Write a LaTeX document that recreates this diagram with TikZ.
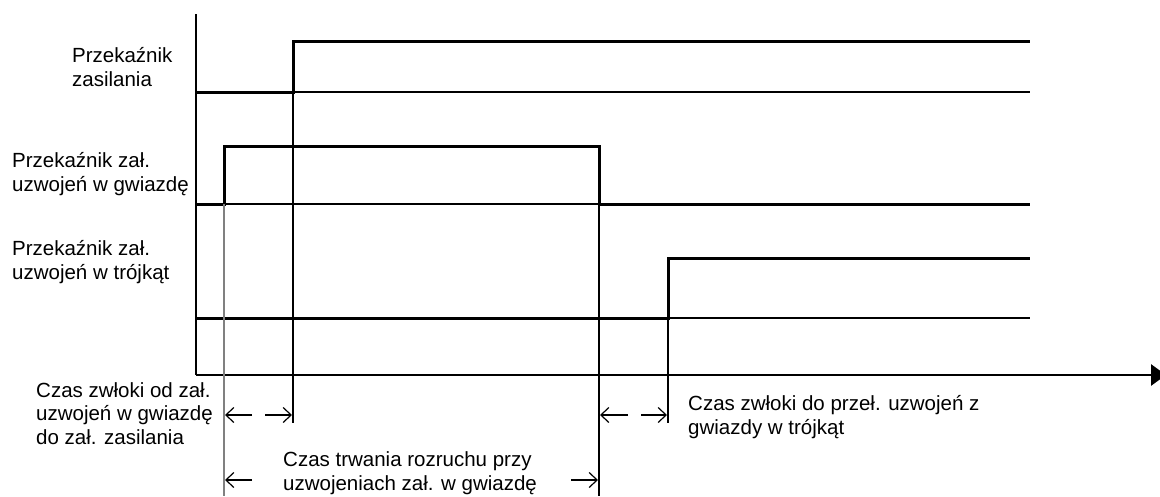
\documentclass[tikz,border=0pt]{standalone}
\usepackage{fontspec}
\setmainfont{Liberation Sans}
\usetikzlibrary{arrows.meta}
\begin{document}
\begin{tikzpicture}[x=1pt,y=-1pt,
  axis/.style={line width=2.8pt},
  sig/.style={line width=3pt, line join=miter},
  ref/.style={line width=1.3pt},
  guide/.style={line width=1.2pt},
  dim/.style={line width=1.2pt, -{Straight Barb[length=8pt,width=15pt]}},
  lbl/.style={font=\fontsize{20.5}{23.3}\selectfont, align=left, anchor=base west, inner sep=0pt}]
\useasboundingbox (0,0) rectangle (1160,496);

% time axes
\coordinate (top) at (196,14);
\coordinate (origin) at (196,375);
\coordinate (tend) at (1166,375);
\draw[axis] (top) -- (origin);
\draw[axis, -{Triangle[length=15pt,width=21pt]}] (origin) -- (tend);

% switching instants
\coordinate (a1) at (224,204); \coordinate (a0) at (224,496);
\coordinate (b1) at (293,92);  \coordinate (b0) at (293,423);
\coordinate (c1) at (599,204); \coordinate (c0) at (599,496);
\coordinate (d1) at (668,318); \coordinate (d0) at (668,423);

% supply relay
\draw[sig] (196,92) -- (b1) -- (293,41) -- (1030,41);
\draw[ref] (b1) -- (1030,92);
% star relay
\draw[sig] (196,204) -- (a1) -- (224,146) -- (599,146) -- (c1) -- (1030,204);
\draw[ref] (a1) -- (c1);
% delta relay
\draw[sig] (196,318) -- (d1) -- (668,258) -- (1030,258);
\draw[ref] (d1) -- (1030,318);

% guide lines
\draw[guide, gray] (a1) -- (a0);
\draw[guide] (b1) -- (b0);
\draw[guide] (c1) -- (c0);
\draw[guide] (d1) -- (d0);

% interval arrows
\coordinate (p1) at (252,415); \coordinate (p2) at (225,415);
\coordinate (p3) at (265,415); \coordinate (p4) at (292,415);
\coordinate (q1) at (628,415); \coordinate (q2) at (600,415);
\coordinate (q3) at (641,415); \coordinate (q4) at (667,415);
\coordinate (r1) at (252,480); \coordinate (r2) at (225,480);
\coordinate (r3) at (571,480); \coordinate (r4) at (598,480);
\draw[dim] (p1) -- (p2); \draw[dim] (p3) -- (p4);
\draw[dim] (q1) -- (q2); \draw[dim] (q3) -- (q4);
\draw[dim] (r1) -- (r2); \draw[dim] (r3) -- (r4);

% labels (anchored at the baseline of their last line)
\node[lbl] (l1) at (72,86) {Przekaźnik\\zasilania};
\node[lbl] (l2) at (12,191) {Przekaźnik zał.\\uzwojeń w gwiazdę};
\node[lbl] (l3) at (12,279) {Przekaźnik zał.\\uzwojeń w trójkąt};
\node[lbl] (l4) at (36,444) {Czas zwłoki od zał.\\uzwojeń w gwiazdę\\do zał. zasilania};
\node[lbl] (l5) at (283,490) {Czas trwania rozruchu przy\\uzwojeniach zał. w gwiazdę};
\node[lbl] (l6) at (688,434) {Czas zwłoki do przeł. uzwojeń z\\gwiazdy w trójkąt};
\end{tikzpicture}
\end{document}
